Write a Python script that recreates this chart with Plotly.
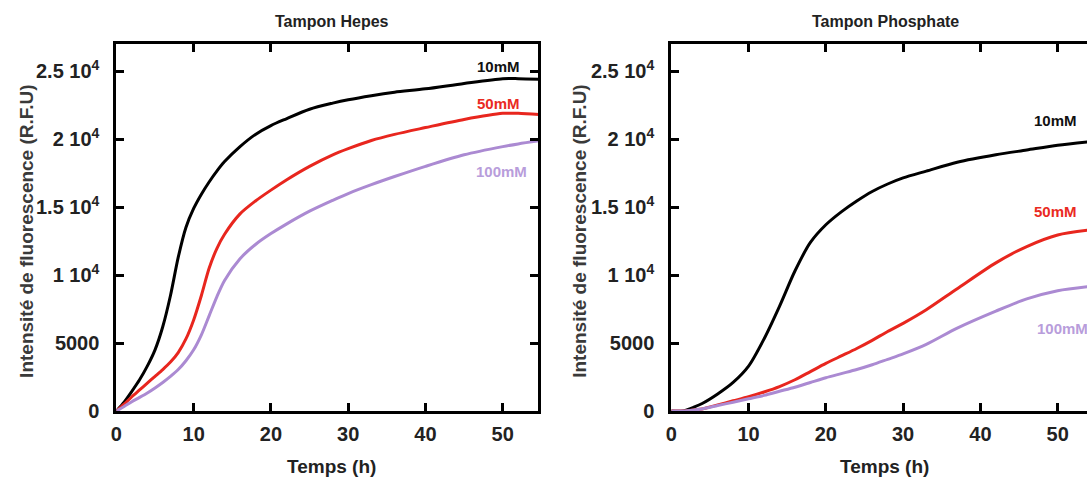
import plotly.graph_objects as go

# ---------------- data ----------------
# Tampon Hepes (left panel)
t_hepes = [0, 1, 2, 3, 4, 5, 6, 7, 8, 9, 10, 11, 12, 13, 14, 16, 18, 20, 22, 25, 28, 30, 33, 36, 40, 45, 50, 52, 55]
hepes_10 = [0, 650, 1450, 2300, 3300, 4500, 6200, 8500, 11300, 13500, 14900, 15950, 16850, 17650, 18350, 19450,
            20350, 21000, 21500, 22200, 22650, 22900, 23200, 23450, 23700, 24100, 24450, 24450, 24400]
hepes_50 = [0, 500, 1050, 1550, 2050, 2550, 3050, 3600, 4300, 5300, 6700, 8500, 10500, 11950, 13000, 14500,
            15450, 16250, 17000, 18000, 18850, 19300, 19900, 20350, 20850, 21450, 21900, 21900, 21800]
hepes_100 = [0, 330, 680, 1000, 1330, 1700, 2100, 2550, 3050, 3700, 4500, 5600, 7000, 8400, 9600, 11200,
             12250, 13050, 13750, 14700, 15500, 16000, 16650, 17250, 18000, 18850, 19450, 19650, 19900]

# Tampon Phosphate (right panel)
t_phos = [0, 1.5, 3, 4, 6, 8, 10, 12, 14, 16, 18, 20, 22, 24, 26, 28, 30, 33, 37, 42, 46, 50, 53.9]
phos_10 = [0, 0, 300, 550, 1250, 2100, 3300, 5300, 7700, 10300, 12400, 13700, 14650, 15450, 16150, 16700,
           17150, 17650, 18300, 18850, 19200, 19550, 19800]
phos_50 = [0, 0, 80, 150, 450, 750, 1050, 1400, 1800, 2300, 2900, 3500, 4050, 4600, 5200, 5850,
           6450, 7450, 9000, 10900, 12100, 12950, 13300]
phos_100 = [0, 0, 80, 150, 400, 650, 900, 1150, 1450, 1750, 2100, 2450, 2750, 3050, 3400, 3800,
            4200, 4900, 6100, 7350, 8250, 8850, 9150]

series_names = ["10mM", "50mM", "100mM"]
x_ticks = [0, 10, 20, 30, 40, 50]
x_tick_text = ["0", "10", "20", "30", "40", "50"]
y_ticks = [0, 5000, 10000, 15000, 20000, 25000]
y_tick_text = ["0", "5000", "1 10<sup>4</sup>", "1.5 10<sup>4</sup>", "2 10<sup>4</sup>", "2.5 10<sup>4</sup>"]
panel_titles = ["Tampon Hepes", "Tampon Phosphate"]
x_title = "Temps (h)"
y_title = "Intensité de fluorescence (R.F.U)"

# label positions (data coords) for each panel
hepes_label_pos = [(49.4, 25350), (49.4, 22650), (49.8, 17650)]
phos_label_pos = [(49.7, 21400), (49.7, 14700), (50.6, 6100)]

# ---------------- style ----------------
W, H = 1087, 488          # page height compensates the viewer's vertical squeeze
K = H / 477.0             # image px -> page px (vertical)
colors = ["#000000", "#e8261e", "#ab8ad2"]
label_colors = ["#111111", "#ea2a22", "#b89ddb"]
FONT = "Liberation Sans, Arial, Helvetica, sans-serif"

px_per_h = 7.77
left_px = (111, 535)
right_start = 669
right_range_max = (W - right_start) / px_per_h
top_px, bot_px = 44, 411


def px2paper_x(p):
    return p / W


def px2paper_y(p):
    return 1 - (p * K) / H


def bold(s):
    return "<b>" + s + "</b>"


fig = go.Figure()

for name, ys, c in zip(series_names, [hepes_10, hepes_50, hepes_100], colors):
    fig.add_trace(go.Scatter(x=t_hepes, y=ys, mode="lines", name=name,
                             line=dict(color=c, width=3, shape="spline", smoothing=0.8),
                             xaxis="x", yaxis="y", showlegend=False))
for name, ys, c in zip(series_names, [phos_10, phos_50, phos_100], colors):
    fig.add_trace(go.Scatter(x=t_phos, y=ys, mode="lines", name=name,
                             line=dict(color=c, width=3, shape="spline", smoothing=0.8),
                             xaxis="x2", yaxis="y2", showlegend=False))

ydom = [px2paper_y(bot_px), px2paper_y(top_px)]
common_x = dict(showline=True, linecolor="black", linewidth=3, ticks="inside", ticklen=8, tickwidth=3,
                tickcolor="black", tickvals=x_ticks, ticktext=[bold(s) for s in x_tick_text],
                showgrid=False, zeroline=False,
                tickfont=dict(family=FONT, size=20, color="#222"), ticklabelstandoff=3)
common_y = dict(showline=True, linecolor="black", linewidth=3, ticks="inside", ticklen=8, tickwidth=3,
                tickcolor="black", tickvals=y_ticks, ticktext=[bold(s) for s in y_tick_text],
                showgrid=False, zeroline=False, range=[0, 27000], domain=ydom,
                tickfont=dict(family=FONT, size=20, color="#222"), ticklabelstandoff=10)

fig.update_layout(
    width=W, height=H,
    margin=dict(l=0, r=0, t=0, b=0),
    paper_bgcolor="white", plot_bgcolor="white",
    xaxis=dict(domain=[px2paper_x(left_px[0]), px2paper_x(left_px[1])],
               range=[0, (left_px[1] - left_px[0]) / px_per_h],
               anchor="y", mirror="ticks", **common_x),
    yaxis=dict(anchor="x", mirror="ticks", **common_y),
    xaxis2=dict(domain=[px2paper_x(right_start), 1.0], range=[0, right_range_max],
                anchor="y2", mirror="ticks", **common_x),
    yaxis2=dict(anchor="x2", mirror=False, **common_y),
)

ann = []
for title, cx in zip(panel_titles, [328, 884]):
    ann.append(dict(text=bold(title), x=px2paper_x(cx), y=px2paper_y(21.5), xref="paper", yref="paper",
                    showarrow=False, font=dict(family=FONT, size=16, color="#222"),
                    xanchor="center", yanchor="middle"))
for cx in [327, 883]:
    ann.append(dict(text=bold(x_title), x=px2paper_x(cx), y=px2paper_y(466), xref="paper", yref="paper",
                    showarrow=False, font=dict(family=FONT, size=19, color="#222"),
                    xanchor="center", yanchor="middle"))
for cx in [20, 576]:
    ann.append(dict(text=bold(y_title), x=px2paper_x(cx), y=px2paper_y(231), xref="paper", yref="paper",
                    textangle=-90, showarrow=False, font=dict(family=FONT, size=19, color="#3a3a3a"),
                    xanchor="center", yanchor="middle"))
for (xx, yy), nm, lc in zip(hepes_label_pos, series_names, label_colors):
    ann.append(dict(text=bold(nm), x=xx, y=yy, xref="x", yref="y", showarrow=False,
                    font=dict(family=FONT, size=15, color=lc), xanchor="center", yanchor="middle"))
for (xx, yy), nm, lc in zip(phos_label_pos, series_names, label_colors):
    ann.append(dict(text=bold(nm), x=xx, y=yy, xref="x2", yref="y2", showarrow=False,
                    font=dict(family=FONT, size=15, color=lc), xanchor="center", yanchor="middle"))

fig.update_layout(annotations=ann)
fig.write_html("out.html", config={"displayModeBar": False},
               post_script="document.body.style.margin='0';document.body.style.overflow='hidden';")
